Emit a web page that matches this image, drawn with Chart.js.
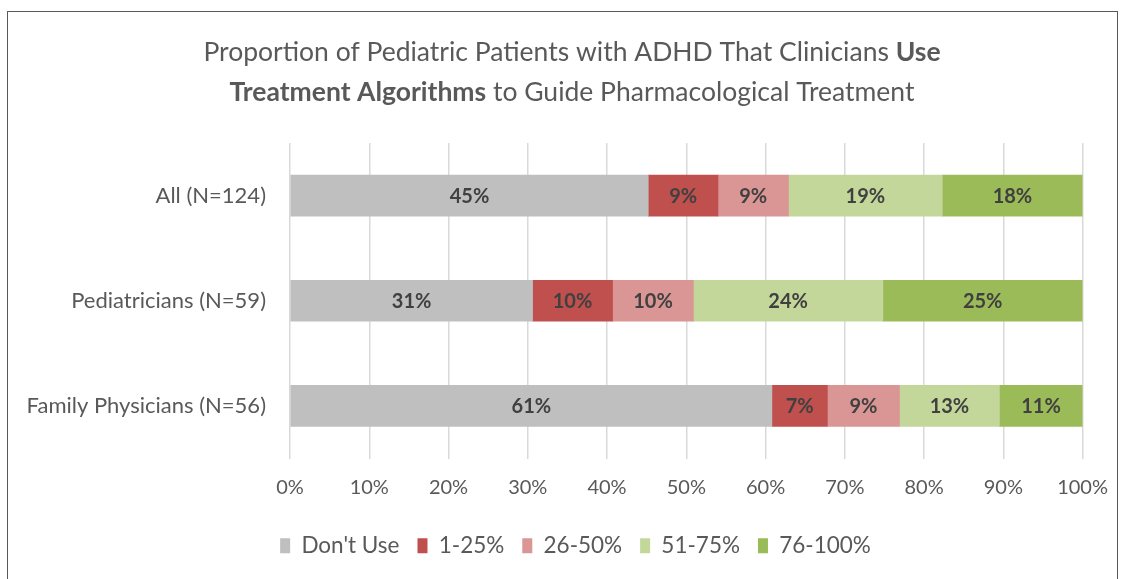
<!DOCTYPE html>
<html>
<head>
<meta charset="utf-8">
<script src="https://cdn.jsdelivr.net/npm/chart.js@4"></script>
<style>
  body { margin: 0; background: #fff; }
  #wrap { width: 1125px; height: 579px; }
</style>
</head>
<body>
<div id="wrap"><canvas id="chart" width="1125" height="579"></canvas></div>
<script>
const groups = ["All (N=124)", "Pediatricians (N=59)", "Family Physicians (N=56)"]
const seriesNames = ["Don't Use", "1-25%", "26-50%", "51-75%", "76-100%"]
const dontUse = [45.2, 30.6, 60.8]
const pct1to25 = [8.8, 10.1, 7.0]
const pct26to50 = [8.9, 10.2, 9.1]
const pct51to75 = [19.4, 23.9, 12.6]
const pct76to100 = [17.7, 25.2, 10.5]
const xTicks = [0, 10, 20, 30, 40, 50, 60, 70, 80, 90, 100]

const colors = ["#bfbfbf", "#c0504d", "#da9694", "#c4d79b", "#9bbb59"]
const FONT = "Lato, 'Open Sans', sans-serif"

// title with mixed weights, drawn by hand since chart.js titles are one font
const titleLines = [
  [["Proportion of Pediatric Patients with ADHD That Clinicians ", false], ["Use", true]],
  [["Treatment Algorithms", true], [" to Guide Pharmacological Treatment", false]]
]

const framePlugin = {
  id: "frame",
  beforeDraw(chart) {
    const ctx = chart.ctx
    ctx.save()
    ctx.fillStyle = "#fff"
    ctx.fillRect(0, 0, chart.width, chart.height)
    ctx.strokeStyle = "#595959"
    ctx.lineWidth = 1
    ctx.strokeRect(7.5, 11.5, 1110, 620)
    ctx.restore()
  },
  afterLayout(chart) {
    // the legend sits a bit right of the canvas middle in the original
    chart.legend.left += 20
    chart.legend.right += 20
  },
  afterDraw(chart) {
    const ctx = chart.ctx
    ctx.save()
    ctx.fillStyle = "#595959"
    ctx.textBaseline = "middle"
    const ys = [52, 92]
    titleLines.forEach((parts, i) => {
      let total = 0
      parts.forEach(([t, b]) => {
        ctx.font = (b ? "bold " : "") + "26.5px " + FONT
        total += ctx.measureText(t).width
      })
      let x = 572 - total / 2
      parts.forEach(([t, b]) => {
        ctx.font = (b ? "bold " : "") + "26.5px " + FONT
        ctx.textAlign = "left"
        ctx.fillText(t, x, ys[i])
        x += ctx.measureText(t).width
      })
    })
    ctx.restore()
  }
}

const valueLabels = {
  id: "valueLabels",
  afterDatasetsDraw(chart) {
    const ctx = chart.ctx
    ctx.save()
    ctx.font = "bold 20px " + FONT
    ctx.fillStyle = "#404040"
    ctx.textAlign = "center"
    ctx.textBaseline = "middle"
    chart.data.datasets.forEach((ds, i) => {
      chart.getDatasetMeta(i).data.forEach((el, j) => {
        const v = ds.data[j]
        ctx.fillText(Math.round(v) + "%", (el.x + el.base) / 2, el.y + 1)
      })
    })
    ctx.restore()
  }
}

const seriesData = [dontUse, pct1to25, pct26to50, pct51to75, pct76to100]

new Chart(document.getElementById("chart"), {
  type: "bar",
  data: {
    labels: groups,
    datasets: seriesNames.map((name, i) => ({
      label: name,
      data: seriesData[i],
      backgroundColor: colors[i],
      barThickness: 41
    }))
  },
  options: {
    indexAxis: "y",
    responsive: false,
    animation: false,
    layout: { padding: { top: 143, left: 15, right: 29, bottom: 12 } },
    scales: {
      x: {
        stacked: true,
        min: 0,
        max: 100,
        afterBuildTicks(scale) { scale.ticks = xTicks.map(v => ({ value: v })) },
        grid: { color: "#d9d9d9", lineWidth: 1.5, drawTicks: false },
        border: { display: false },
        ticks: {
          padding: 17,
          color: "#595959",
          font: { family: FONT, size: 20 },
          callback: v => v + "%"
        }
      },
      y: {
        stacked: true,
        afterFit(scale) { scale.width = 275 },
        grid: { display: false, drawTicks: false },
        border: { display: false },
        ticks: {
          padding: 24,
          color: "#595959",
          font: { family: FONT, size: 22 }
        }
      }
    },
    plugins: {
      legend: {
        position: "bottom",
        labels: {
          boxWidth: 10,
          boxHeight: 15,
          padding: 18,
          color: "#595959",
          font: { family: FONT, size: 22.5 }
        }
      },
      tooltip: { enabled: false }
    }
  },
  plugins: [framePlugin, valueLabels]
})
</script>
</body>
</html>
